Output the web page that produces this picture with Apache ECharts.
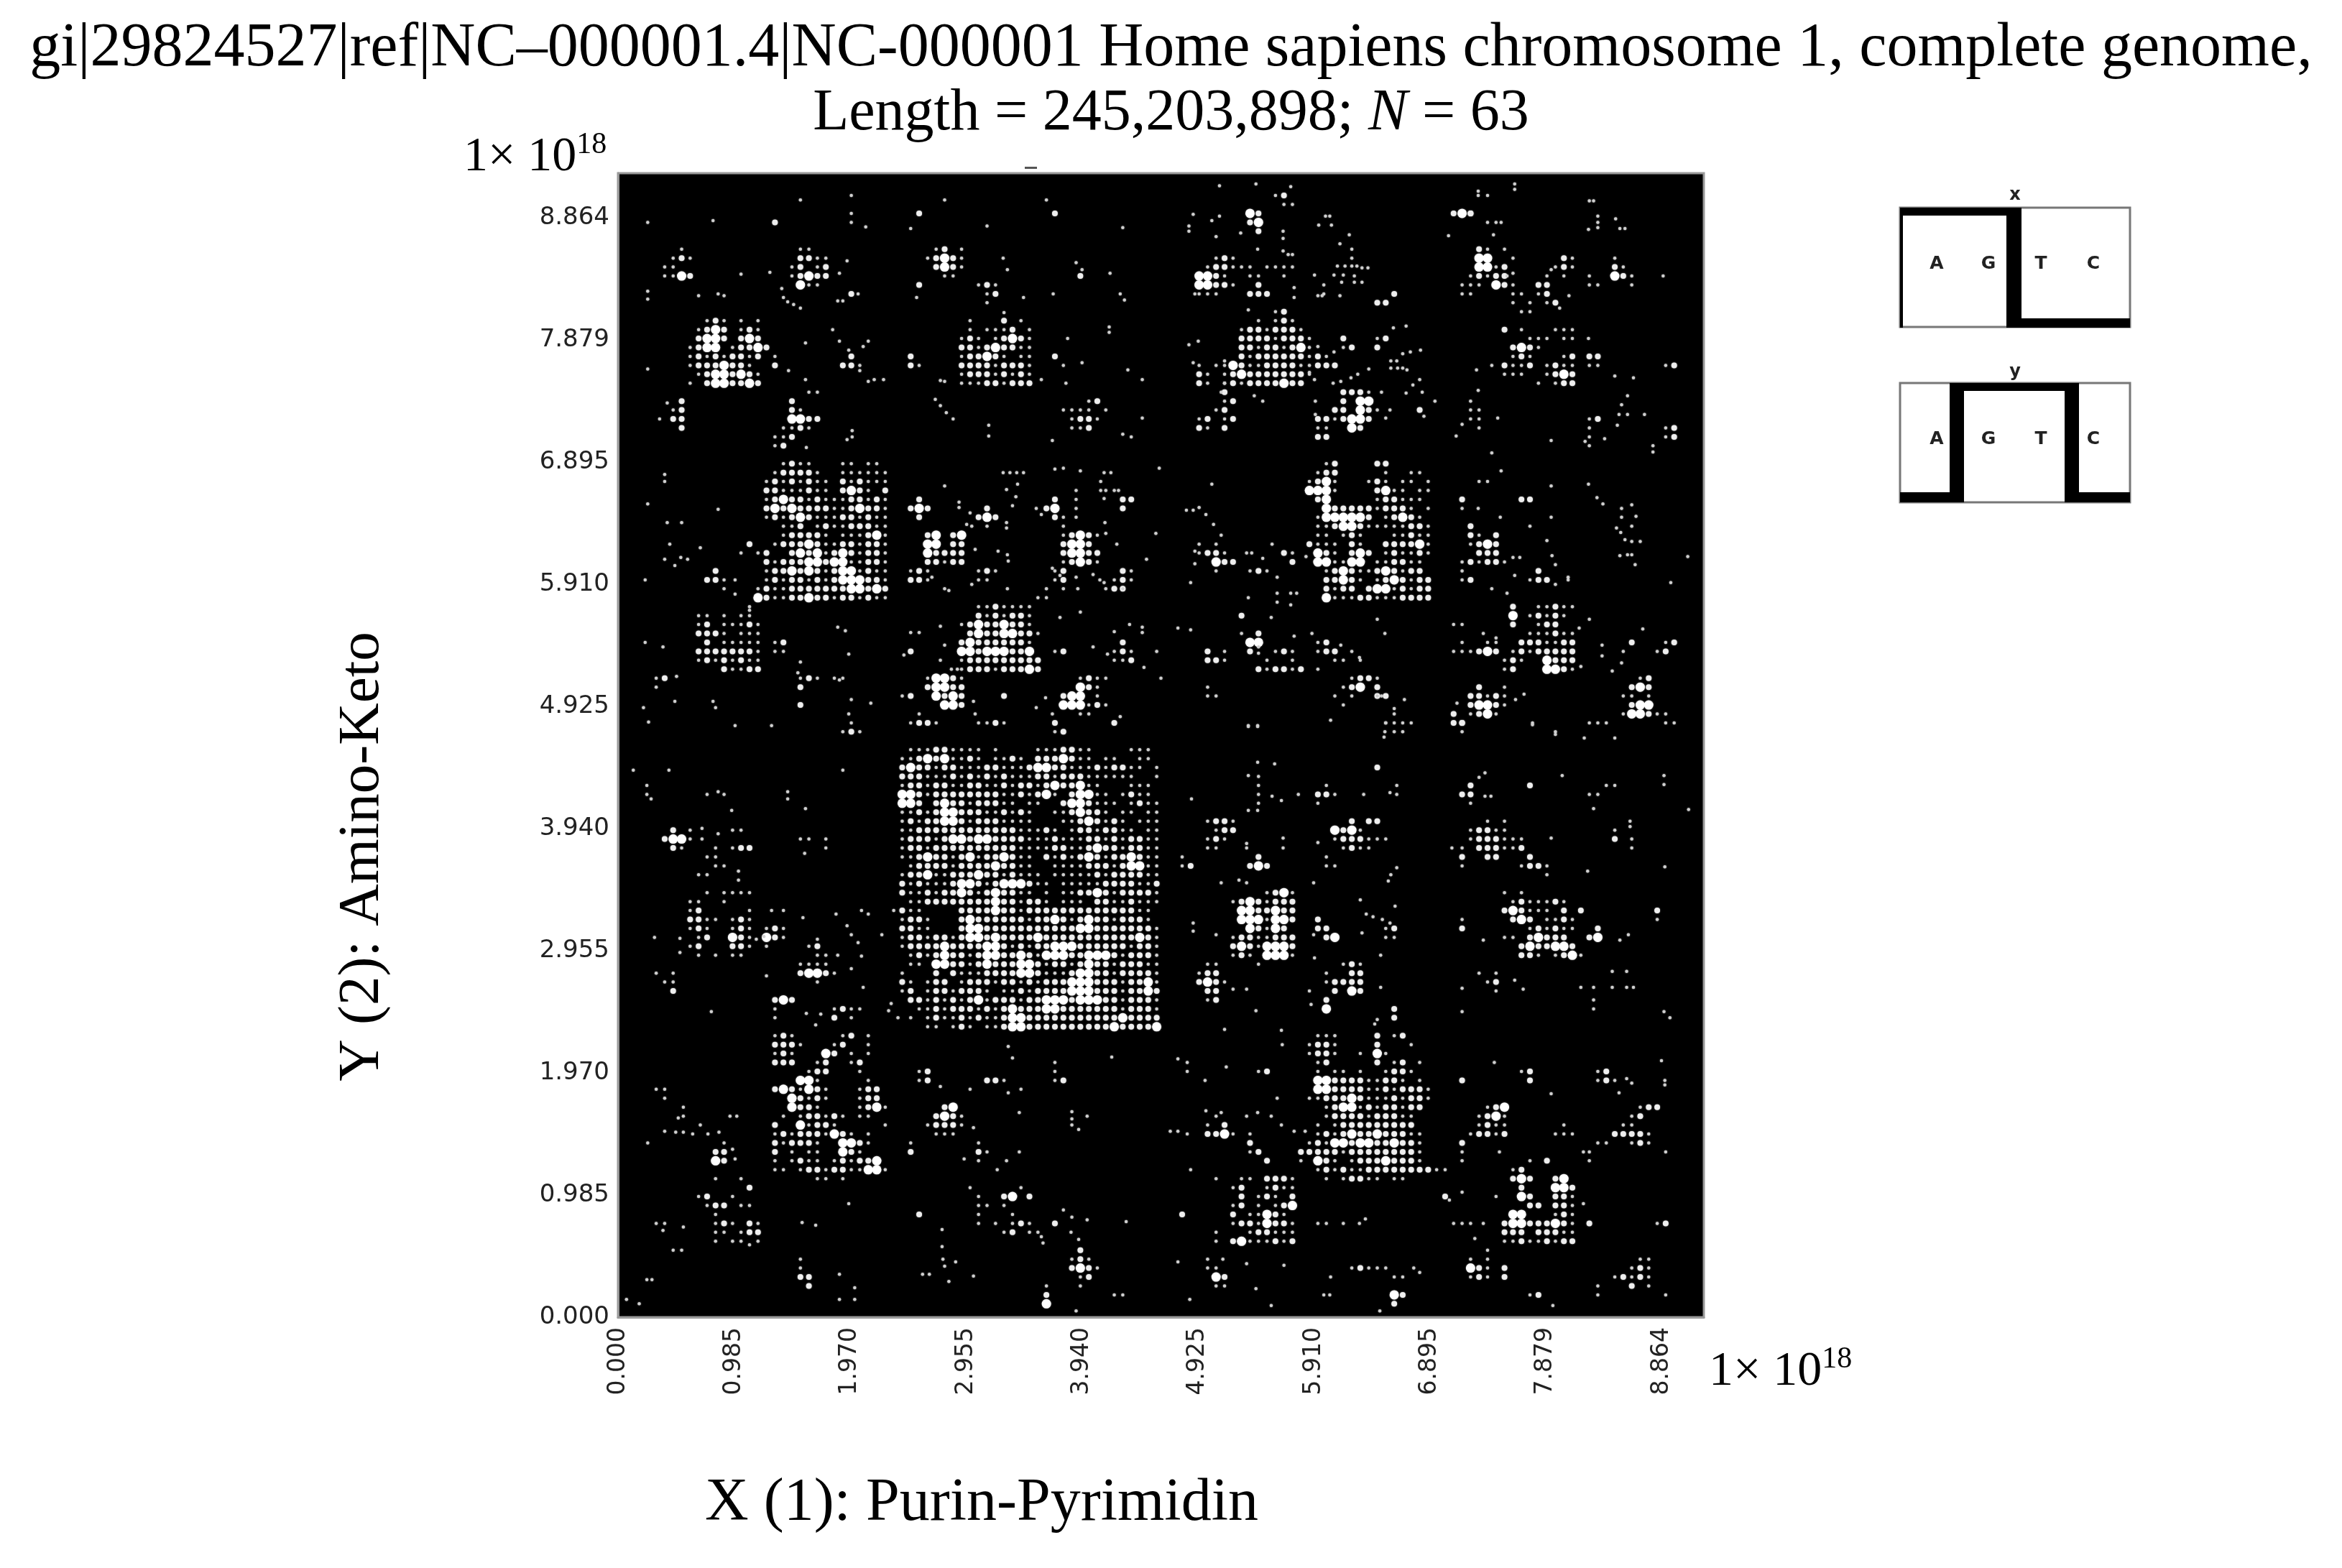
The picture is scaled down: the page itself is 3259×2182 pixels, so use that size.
<!DOCTYPE html>
<html><head><meta charset="utf-8">
<style>html,body{margin:0;padding:0;background:#fff}#c{width:3259px;height:2182px}</style>
<script src="https://cdn.jsdelivr.net/npm/echarts@6/dist/echarts.min.js"></script>
</head><body><div id="c"></div>
<script>
const titleLine1 = "gi|29824527|ref|NC\u2013000001.4|NC-000001 Home sapiens chromosome 1, complete genome,";
const tickLabels = ["0.000","0.985","1.970","2.955","3.940","4.925","5.910","6.895","7.879","8.864"];
const tickStep = 0.98489;
const axisMax = 9.22337;   // 2^63 / 1e18
const gridBins = 128;

// [col, row, density rows], o = sparse, O = medium, # = dense
const patchesTopLeft = [
[5,8,["..o.",".oOo","oo..","oo#O"]],
[20,8,[".oo..",".OOoo","oO.oO","oO#OO",".#oo"]],
[36,8,[".oO.o.","oO#Oo",".O#Oo","..oo."]],
[42,12,["oOo",".oO",".o"]],
[8,16,["..oOo.o.o",".oO#O.oOo",".O##O.O#O","oO##.oOO#O","oOoOoOOoO","oOOO#OOo.",".oO##O#Oo","o.O##OO#O"]],
[40,16,[".o...O.o",".o.oooO.o","oOo.oO#Oo","OOoO#OOoo","oOO#Oo.oo","OOOOoOOOo","oOOOoOoOo","oooOOoOOO"]],
[18,20,["o","O"]],[26,20,[".O.","OOo"]],[34,20,["O","Oo"]],[51,20,["O"]],
[6,25,[".O.","oO","OO",".O"]],
[20,24,["..oo","O...","Oo..","##OO",".Oo."]],
[52,25,["...oO.","oooo.o",".oOOo",".ooO."]],
[18,28,[".oo","ooO","oO."]],
[16,32,["...oOoo...oo.oo.","..oOOOOo..oooooo",".oOoOoOoo.OoOooo",".OOoooOoo.O#Oo.O",".oO#OOoOoooOOoOo",".O#O#OOOOooO#OOo",".oOoO#OoooOOoOoo","...ooO.oOooOOOoo","...oOOOOo.oooO#o","..oOOO#OooOOoOOo",".O..O#O#oO#OoOOo",".OoOOO##O##ooOOo",".oOO#O#OoO##oOoo",".oOoOOoOoO###OOo","oOooOOOOOOO##O#O","#OooOO#OOoOOoOoo"]],
[34,36,[".O.","O#O",".O."]],[42,37,[".O.","O#O"]],[50,36,[".O.","O#.",".Oo"]],[59,36,["OO","O."]],
[52,40,["oO#Oo","O##O.","O##OO","oO#Oo"]],
[36,40,["O#.O#","##.OO","#OOOO","OOoOO"]],
[14,41,[".O.","o.o"]],[10,44,[".O.","OOo","..o"]],
[34,44,["oOo","OOo"]],[42,44,["oOo","oo."]],[49,44,["..oO","..oO",".o.o","oo.."]],
[58,44,[".Oo","oOo","oO"]],[57,46,["oOo"]],
[9,48,["......o.","oo.o.oo.","oO.oooOo","OOOo.ooo",".O.ooooo","OOOOOOOo","oOoOoOoo","...OooOO"]],
[40,48,["..ooOoooo","..OoOoOOo","oO#OO#OOo",".O#OO##OOo","O#OOOOOOo","##O###OO#","oOOOOOOOOO","oOOOoOOO#O"]],
[18,52,["oO","oo"]],[34,53,["O"]],[51,53,["oO"]],[58,52,[".O.","oOo","ooO"]],
[4,56,["oO","o."]],[21,56,["oOo.oo","O.....",".......","O"]],
[36,56,["o##Oo","O##OO",".#O#O","..##O"]],[33,58,["oO"]],[45,58,["O"]],
[34,61,["oOOo"]],[42,61,["ooOo"]],
[52,56,["..oOoo","..#Oo.","O##.o.","###oOo","..oo"]],
[51,61,["O","oO"]],[58,61,["O"]],[26,61,[".o.","oOo"]],
[27,13,["O"]],[35,12,["O"]],[51,4,["O"]],[35,4,["O"]],[18,5,["O"]],[54,11,["O"]]
];
const singlesTopLeft = [21,2.5,27,2,38,2.5,50,2.5,3,5,10.7,4.8,27,4,27,5,28.7,5.5,34,5.7,43,5.4,59,5.6,14,10.8,17.4,10.6,25.6,10.7,26.5,9.3,44.9,9,45.4,10.3,57.5,10.7,53.5,9.5,54.2,10.3,3,12.7,3,13.6,11.3,13,12,13.2,9,13.2,18.8,12.4,19,13.4,19.5,13.9,20.2,14.2,25.4,13.8,26,13.8,27.8,13,34.7,13.4,47.3,13.4,50.8,13,58.7,13,59.2,13.7,21,14.6,45,15.1,24.8,17,25.6,18.3,26.7,19.3,28.4,18.9,29,18.3,21.6,18.5,19.6,21.6,28,21.6,29,22.8,29.7,22.6,30.8,22.6,21.6,22.6,37.5,22.7,38,22.8,3,21.4,52,21,54.2,20.7,52.5,18,57.4,16.7,57.4,17.3,59.6,21.5,61.3,22.6,49.4,22.6,52.3,23,4.4,27,5.3,25.2,36.9,24.8,37.5,25.5,38.2,26.3,39,27,43.2,27.7,43.2,28.9,61.3,26.9,59,28.7,60,29,50.7,29.4,27.1,28.3,27.1,29,26.5,29.3,21.7,30.2,39.7,36.3,39.7,36.9,41,37.5,40.6,38.8,41.2,39,43,39,45.3,38.6,45.3,39.2,46.4,35.7,46,36.7,44.9,33,45.7,33,46.5,33,47.3,33,46.6,34.3,45.3,34.9,51,32.6,52,32.5,54,32.8,63.3,32.5,56.8,33,57.6,33,56.4,34,56.4,35,57,35,58,35,58.5,35,53.5,35,53.5,36,53.5,37,53.5,38,56.8,35.9,38,34.5,5,33.2,5,34,3,36.5,11.3,37.1,5.3,38.6,7,38.6,48.8,37,49.4,37.7,57,39.8,56.9,38.6,62.9,39.8,61.8,42.7,58.3,41,52,39,5.6,41,5,42.7,6.2,43.4,6.9,42.5,7.7,42.7,9.2,41.4,13.3,45,13.3,46.6,2.7,45,36.5,44.7,38,46,38.5,46.2,44.3,41.8,45.4,42.2,45.5,42.9,41.6,41.6,41.2,45.5,45.4,46,50.7,43.7,53.5,44.7,53.7,46,55.5,44.4,56.3,45,56.8,45.3,51.6,44.5,15,48.4,25.4,50.3,26.3,50.7,34,50.9,35,50.9,37.5,50.2,2.7,52,4.8,52.5,26.7,53.3,21,54.2,33.2,53.4,38,52.3,37.5,54,38.8,55,39.5,55,55.5,52.5,57.2,53.3,61.5,54.8,63,53,51.6,49.2,54,48.6,58,50.8,59.8,50,61.3,50.3,61.3,50.9,65.5,50.4,20.7,55.4,25.6,56.2,6.4,55.8,6.2,58.6,10.7,58.6,11,59.3,2.5,59.3,3.1,60.9,13.3,61.3,27,58.4,29.3,58.8,35,60,41.4,58.6,41.6,60,49.9,58.2,48.8,59.3,58.7,60.3,50.7,60,63.5,56,26.7,60,17.6,61.3];

const patchesTopRight = [
[77,2,["oO",".oo"]],[74,4,["#O","O#",".O"]],[98,4,["O#O"]],[100,4,["O"]],
[68,9,["..oOo",".oOOo","##Oo.","##OOo"]],[73,10,["oo..",".oo"]],[76,10,["oooo","..o"]],
[74,12,[".O.","OOO"]],[69,13,["oo"]],[89,13,["..O","OO."]],[77,15,["oO"]],
[100,8,[".Oo.o.",".##..o",".##oO.","oOoOO.","oo.#Oo"]],
[109,9,["..Oo",".oOo","o.o."]],[114,9,["...o.","...Oo.","o..#Oo","oo...o"]],
[99,12,["o","oo"]],[105,12,["...OO.","oo.oO.","o.o.oO",".oo"]],
[72,16,["...o.oOo..",".oOOoOOOo.",".OOOOoOOOo",".OOoOOoO#o",".OoOOOOOOo","#OooOOOOoo","O#OOOOOOOo",".oOOOO#OO."]],
[68,21,["o.oo","Oo.o","Oo.o"]],[71,23,["oO","O."]],
[68,25,["...oO","..oO.","oO.oO","Oo.O."]],
[82,20,["Oo.","OOO"]],[85,18,["O","oO"]],[89,18,["oO","O."]],
[84,24,[".OOOo",".O.##","OO.#O","oO##O","..#O."]],[82,27,["O","o","O"]],[83,27,["O","o","O"]],
[94,26,["O"]],[100,25,["o.","oo","oo",".o"]],[114,27,["oO","o.","o.","o."]],[123,28,["oO","oO"]],
[114,20,["OO","oo"]],[123,21,["oO"]],
[104,17,["O.o...ooo","...ooo.oo",".O#Oo....",".oOo...oO","OooO.oOoo","ooo..oO#O","....o.oOO"]],
[80,32,["...oO....OO.....","..oOO.....o..oo.",".oO#o...oOo.oo.o",".###o....O#oo.oo","..O#.....oOOooo.","...#OOOOOoOOOo.o","..o#####O.oO#Oo.","..ooO##OoooooOOo","..oo.oOo...ooOoo",".Oooo.Oo..OOOO#o","..#Oo.O#O.oOooOo","..##oo##.ooOOoo.","...oO#OooO#OoOO.","...OO#Oo.oO#OoOO","...OoOO.O##oOoOO","...#oooOOoooOOOO"]],
[68,41,["o.o..","oOOo.","..#OO","..o"]],[78,42,["Oo",".O"]],[74,44,["oOo"]],
[99,36,["O","o"]],[106,36,["OO"]],[101,34,["oo"]],
[99,39,[".O....",".Oo.O.",".oO#O","..OOO","oOoOOo"]],[99,44,["o","oO"]],[106,44,["..O",".oOO"]],
[73,49,["O..","...","o.O",".##",".O."]],[69,53,["O.o","OOo"]],[76,53,[".oOo","o..o"]],[75,55,["OoOOoO.o"]],
[82,52,["oO.","oOO"]],[84,54,["oo.o"]],[98,50,["oo"]],[98,52,[".o..oo.","ooo.OO."]],[101,53,["O#"]],
[104,48,[".O..ooOoo",".#.oOoOo.",".O..oOO..","...oooOoo","..OOOooOO",".oOoOOOOO","oOo..#OOO","oO...##Oo"]],
[119,52,["O"]],[122,52,[".oO","oO."]],
[69,57,["o.","oo"]],[84,56,["..oOOo",".oO#.O","o.o..O",".o"]],[89,58,["oO"]],[90,60,[".o","oo.o","..o"]],
[100,57,[".O..o.","OOoOo.","O##Oo.","oO#o"]],[98,60,["O","OO"]],
[118,56,["..oO.",".O#O","oo...",".O##","o##O"]],[122,60,["oo"]]
];
const singlesTopRight = [70.4,.9,74.7,.7,78.8,1,100.9,1.5,100.9,2,102,2,105.2,.7,105.2,1.3,114,2.6,114.5,2.6,67.3,4.1,66.8,5.4,66.8,6,69.5,4.8,70.4,4.3,70,6.6,72.9,6.2,77.9,6,77.9,6.8,74.9,8,82.9,4.3,83.4,4.3,82.1,5.3,83.6,5.3,85.7,6.4,102,5,103,5,103.6,5,102.7,6.4,97.4,6.5,113.9,5.8,115,4.3,115,5,115,5.6,117.1,4.6,117.6,5.7,118.2,5.7,78.5,8.6,79,8.6,77.9,8.2,81.6,10.9,84.6,7.4,86,8,86,9,86,9.9,86.6,9.9,84.3,9.9,85.2,9.9,83.9,10.9,85,10.9,86.3,11,87.2,10.1,87.9,10.1,86.3,11.7,87.2,11.7,84.8,11.7,82.7,12,82.7,13,82,13.2,82.5,13.2,79.2,12.3,79.2,13.4,67.5,13,68,13,84.6,13.2,73.8,14.8,105,10.7,104.3,11,109.5,10.3,122.7,11,111.6,13.2,110.5,14.6,71,20.5,70.6,24,67.3,20.7,66.8,18.7,67.9,18.3,74.5,24.4,75.5,25,81,21.8,81.6,22.6,83.9,19.5,82,18.9,90.9,16.8,92.4,16.6,92,19.7,92.9,19.5,94.1,19.3,90.6,20.5,91.3,20.5,90.6,21.3,91.4,21.3,92,21.3,92.5,21.5,88,21.4,86.7,22,85.9,22.4,84.7,22.8,83.8,23,94,22.6,93.2,23.2,94.3,24,92.4,24.1,89.5,24,81.7,25,81.7,26.5,94.5,26.7,95.8,25,89,26,90,26.9,90.5,26,98.3,28.9,99,27.6,103.2,26.9,100.9,23.8,100.7,21.5,102.5,21,118.5,24.4,117.8,25.4,117.5,26.5,118.5,26.5,120.5,26.5,117.3,27.7,109.5,29.4,102.5,30.8,103.6,32.8,113.9,18,117,22.2,119.2,22.4,113.5,29.5,115.8,29.2,121.5,30,121.5,30.7,69.5,34.3,66.5,37.2,67.3,37.2,68,36.9,68.8,37.7,69.7,38.8,70.6,40,73.6,42,74.2,42,76.6,41,75.5,42.6,80.6,42.4,67.5,41.8,67.5,43.2,67,45.3,77.2,44.7,77.2,46.5,77.2,47.5,73.8,47,78.8,46.5,79.5,46.5,78.8,47.8,100.9,37,103.5,38,109.5,38,107,39,109.5,34.5,113.9,34.3,102.5,46,109,40.6,109.6,42.3,110,43.3,105,42.5,105.8,42.5,104.3,46.5,111.5,44.7,111.5,45,110,45.5,105.2,44.5,117.8,37,119,36.6,117.8,38,119.5,37.9,119,39,117.2,39.2,117.7,39.7,118.2,40.5,119,40.7,120,40.7,117.6,42.3,118.5,42.2,119,42.2,119.4,43.3,114.9,35.8,115.6,36.5,125.6,42.4,123.6,45.3,89,49.4,89.9,51,81.3,51,84.7,52.3,86,53,86.9,53.7,105.3,58.4,106.3,57.8,114,49.4,112.8,50.4,120.3,50.5,115.5,52.3,115.5,53.5,118,53,113,54.7,117.8,54.3,116.7,55.2,121,58,67,50.6,79.2,51.3,76.5,49.2,75,52.5,75,53.2,89.5,58,91,59.4,92.2,58.4,83.5,60.7,89.9,62,98.4,58.8,107.3,61,110,62,114,61,115,61,116,61,73.8,61.3,74.9,61.3,101.5,51,103,51.5];

const patchesBottomLeft = [
[5,73,[".O.o","O##o",".Oo."]],[13,73,["oo.","...","oOO"]],[21,74,["oo.o","...o"]],[10,75,[".o","oo",".oo"]],[9,78,["oo"]],
[8,80,["..o.oooo","oo..o...","oO.....o","OOoo.oOo","oOo..oOo",".oO..#Oo","oO...OOo",".o.o.oo"]],
[4,89,["o.o",".oo","..O"]],[17,84,["oOo","#Oo","o.."]],
[21,86,[".oO.","..oo","oooo","O##Oo","..o."]],
[18,92,["O#O","o..","o"]],[25,93,["oOoo","O.o."]],
[32,64,["..oooOOoooo.o....oooOOoo....ooo.",".ooO#O#ooOo.ooOo.OOO#Ooo.oo..oo.",".O#OOoOOoooOOoooO##OOoooOoOOoo.o",".OOOoooOoOoOoOoooOOoOOOoooooo..o",".oOOoOOooOOooOoOOoO#OO#oo...ooo.",".##OoOOOOOOOOooOoO#o.O##oo.oOoo.",".##O.O#OOoOOOoo.oo..O##Oooo.oOoo",".ooOoO##OOOooOoOo..ooO#OOo.oo.oo",".oOoOO##OoOOOoooo...ooO#OoOo.ooo",".ooOOOOOOOOOOOOoooOo.oOOoOOoo.oo",".oOOOoO##O##OOOOoooOoooOOoOoOOoo",".oOOoOOOOOOOOOOooooOOooO#OOoOOoo",".ooO#OOoO#oOO#Ooo.OoOoO#OoOO#Ooo","..oOOOOoOOOO#OOoo..ooooOOOoO##oo",".oOO#ooOOO#OOoOooo.oooooOoOOOOoo",".OoOoooO##OoO###Ooo.oooooOOOOooO",".OooOoOO#OoO#OOoo.o.ooOO#OoOOOOo","..ooOOOOOOOO#OOoOOo.ooo.OOooOooo","oOoo....OOOO#OOoOOOOOOOOOOOOOoo.",".oOOo...O#OOOOOOoOO#OoO#OOoOOOo.",".OOoo...O##OOOOOOOOOOO##OOOOOOOo",".oOOoOOoO##O#OOOO#OOOOOOOOOOO#Oo",".oOOOO#OOOO##OoOoOO###OOOOOOoOOo","..oOoO#OOoO##OO#Oo###OO###OoOOOo","..oo.##OOoO#OOO##OoOOoO#OOoOOOoo",".o...O.OoooOOOO##OoooO##OOoOOOOo",".Oo.oOO.oOOOoOOoOoOOO###OOOoOO#o",".oO.oOOoOOOo.ooOoOOOO###OOOoOO#O","..OOoOoOoO#oOOOoOO###O###OOoOOOo","...ooOoOOOoOoO#OOO##OOOOOOOoOOOo","..o.oOooOoOooO##OOOOOOOOOOO#OOOO","....oo.oOo.ooO##OOOOOOOOOO#OOOO#"]],
[16,96,["..oOo.....oO.o..","..OOOo...oO..o..","..oOo...#O.o.o..","..OOO..oO..oO...","......oOO...o...",".....##o.....o..","..O#Oo#Oo...oOO.","....#OoOo...oOO.","....#OOo....oO#o","...o.oOOoOo.oo..","..O..#oOOo.....o","..oOoOOOo#Oo.o..","..OoOOOo..##Oo..","..O.o.oo..#Oo...","..o.oOoo.oOoOO#.","..oo.oOOoOOoo##o",".......oo.o....."]],
[35,100,["oO","oO"]],[41,101,["..OOo","o.....o"]],[51,100,["o","oO"]],
[36,104,["..O#.",".O#Oo","oOOOo",".ooo"]],[34,108,["o","O"]],[42,108,["o.","Oo"]],
[4,102,["oo",".o"]],[10,108,["..o",".OO",".#O"]],
[9,112,["..o..o..","......O.","oO..o...",".oOO.oo.","..o.....","..oOo.Oo","..oo.oOO","..o.oo.o"]],
[4,117,["oo"]],[6,120,["oo"]],[21,121,["o.","o.","OO",".O"]],
[35,116,["O"]],[41,113,["o.....o.",".o..O#.O",".oo.o...",".o...o..",".o.o.oOo","....oO.oo."]],
[51,117,["O"]],[52,120,["..O..",".oOo",".O#Oo","..oO","..o"]],[50,124,["o","O","#"]],[58,125,["oo"]]
];
const singlesBottomLeft = [1.3,66.3,5.5,66.3,26,66.3,2.9,68,2.9,69,3.4,69.5,10,69,11.3,68.7,12,69,19.5,68.7,19.5,69.5,21.6,70.6,12.9,70.8,9.4,72.8,11.3,73.4,9.4,74,21.5,75.6,13.7,77.6,13.7,78.6,3.8,85,6.8,85.1,6.8,86.7,16.7,84.9,15.8,85.2,17.6,82,19,82,21.3,82.8,25.2,82.4,26.5,83.7,27,84.7,27.8,85.6,28.2,82,29,82.4,28.2,87.1,23,85.2,30.6,84.7,25.4,87,27,88.5,17,89.3,28.4,90.6,10.5,93.3,21.7,93.5,23.4,93.6,22.8,94.8,31.7,92.4,31.4,93.2,32.5,94,37.5,101.7,45.5,102.4,46,98.5,51,99,57.7,98.4,65.5,98.6,41.4,106.3,46.8,104.6,53,104.5,53,105.3,53,106,54.8,105,53.8,106.5,64.6,106.7,65.5,106.7,40.3,109.8,42,110,46.8,109,44.2,111,45.3,110,45.5,97.2,7.2,104,7.2,105,6.6,105.2,5,106.7,6.3,106.8,7.2,106.8,8.3,107,9.2,106,10.1,107,11.4,106.8,12.7,105,13.5,105,13,108.7,13.3,109.8,3,108,4.8,117.8,7.2,117.4,15,119.4,2.9,123.3,3.5,123.3,21.2,116.9,22.8,117.2,26.7,114.8,25.6,122.7,27.4,124.2,27.4,125.5,25.6,125.5,35.4,122.7,36.2,122.7,37.7,117.7,37.7,119.6,37.8,121,38,121.8,39.3,121.3,38.5,123.5,41.4,122.9,49.4,118.5,49.6,119.2,52,115.5,53,116.3,54.8,116.6,52.9,118,53.8,118.8,59.4,116.8,53.5,126.8,65.5,121.3,2,126,0.5,125.5];

const patchesBottomRight = [
[90,61,["o.o",".o"]],[99,61,["O","o"]],[123,61,["oo"]],[89,66,["O"]],
[75,67,["o","o","o","o"]],[82,68,[".o.","OOo","o.."]],[99,68,[".O","OO",".o"]],[107,68,["O"]],[114,69,["oo"]],[116,68,["oo"]],
[69,72,["oOOo",".oOO","oOo.","oo.."]],[66,76,["o","oO"]],[74,76,[".O.","O#O"]],
[84,72,["..O.OO","#O#o..","oOOOo.",".oOoo"]],[89,74,["oo"]],[83,76,["o","oo"]],[99,75,["o","O","o"]],
[100,72,["..o.o.","oOOoo","oOOOo.",".OOOo","..OO"]],[105,74,["oo","oO"]],[106,76,[".O.","oOOo","...o"]],[117,73,["o..","O.o","..o"]],
[72,80,["....oO#o","oO#OoOOO",".##OO#OO",".###o##O","..#Oo#O.","oOOooOOO","O#Oo###O","oOo.###o","...o...."]],
[82,83,["O.","OO",".O#"]],[90,84,["oO","oo"]],[99,83,["o","O"]],
[104,80,["o.o.....",".oOoooOo.","O#Oooo.O.",".O#O.ooOo","...oOoOoo","oo.O#OOO..","..O#OO##O","..OOo.oO#o"]],
[113,82,["O"]],[114,84,[".O","O#"]],[122,82,["O","o"]],
[68,88,[".oo.","oOO.","O#Oo",".OO.",".oO"]],[83,88,["..oOo","o..OO","oOOOO",".O.#O"]],[83,92,["O","#"]],[91,93,["O","O"]],[101,89,["o.o",".oO","..o"]],
[80,96,["..ooo....O.oO...",".oOOo....O...o..",".oOOo..o.#o.....","..oO.....O.oO.o.","..o.oo.o..oOOo..","..##OOOOooOOo.o.","..##OOOOooOoOOOo",".ooOOO#OoooOoOOo","...oO##oOoOOoOO.","...oOOOOoOOOoo..","..o.oOOOOOOOOO..","..oOoO#OO#OOOoo.",".oOo##O##OO#OOo.","..OOOoOOOOOOOOo.","o.#Oo.oOOO#OOOo.","..oOoOooOOOOOOOOoo","...o.oOOoo.oo"]],
[75,100,["oO"]],[69,106,["o.O","OO#o"]],[74,107,["o.","O.","oO","..O"]],[80,109,["OO"]],
[99,101,["O"]],[106,100,["oO",".O"]],[115,100,["oO.","oOo"]],
[100,104,["..oO#",".oO#o",".oOoo","oOOoO"]],[110,106,[".o.","ooo"]],[99,108,["O","o","o"]],[105,110,["..o.O","oO"]],[114,108,[".oo","o..","o."]],
[117,104,["...oOO","..oO.",".oo.","OOOOo","..oOo"]],
[72,112,[".oo.OOOo","oO..oOoo",".O.oOo.O","oO.o.oO#","O.oo#Oo.","oOOo#OOo","..oOOooo","O#oooOoO"]],
[66,116,["O"]],[70,118,["o","o"]],[69,121,["o..","oo.",".#O",".oo"]],[82,117,["oo.o"]],[86,122,["oOo"]],[89,122,["oo.","..oo"]],[91,125,["#O","O."]],
[98,117,["ooo"]],[97,114,["O"]],
[104,112,[".O#O..O#.","..O...##O","..#O..OOo","...OO.OOo",".##...oOo","O##OOO#Oo","OOO.OOOoo","ooOooOoOO"]],
[114,117,["O"]],[122,117,["oO"]],[100,120,["..o","o.o","#Oo.O","oOo.O"]],[117,121,["...oo","..oOo","oOoOo","..O.o"]],
[107,125,["oO"]],[115,124,["o","o"]],[123,125,["o"]]
];
const singlesBottomRight = [73.8,61.4,74.9,61.4,89.8,62.6,107.3,61.2,110,62.3,113.4,62.7,117,62.7,74.9,65.4,76.9,65.6,73.8,66.9,91.3,68,90.5,68.8,91.3,69,101.7,66.6,101,67.1,110.8,66.9,122.8,66.9,122.8,67.9,76.6,69.2,77.7,69.7,79.7,69,73.8,70.8,74.9,70.8,67.1,69.5,87.4,69,101.7,69.2,102.4,69.2,114.5,70.6,125.7,70.7,118.8,72,118.8,72.6,73.6,74.5,73.6,75,77.9,73.9,77.9,75,72.7,78.6,73.6,78.9,70.6,78.9,81.5,78.9,82,74.4,91.3,77.2,90.6,78,90.3,78.7,97.8,75,109.5,73.9,113.8,77.6,122.9,77.1,81.5,84.7,67.3,83.4,67.3,84.3,70,84.7,81.6,87.3,87,80.8,87.7,82.4,88.5,82.7,89.6,83,90.5,83.4,87.2,84.5,89.4,87,91.1,81.5,101.5,85.3,118.6,84.7,117.6,85.3,72,90.8,73.6,90.8,74.7,93.2,71,95.3,81,91,81.2,92.5,89.4,90.6,88.7,94.7,89,94.2,99,90.7,99,93.3,105.2,89.8,106.2,90.8,113,90.6,114.5,90.6,116.7,88.8,116.7,90.6,118.4,88.8,118.4,90.6,119.2,90.6,114.5,92,114.5,93,122.8,93.3,123.5,94,77.7,95.4,77.8,97,66.6,99,66.6,100,68.7,101,71.2,99.5,77.2,103,109.5,102.5,117.5,102.4,118.4,100.8,119,101.3,122.9,101,122.9,101.5,122.5,98.8,102.8,99,68.8,104.4,70,105,70.6,104.6,73.6,105,74.9,104.6,76.5,105,77.7,106,79.2,106.7,80.5,106.7,67,111,66.6,107,70,112,103.4,109,113.3,109,123,109,113.3,114.8,97.5,114.4,99,113.5,103,114,101.5,117,100.5,118.7,86.9,117,87.6,116.5,70.8,121,73.6,121.5,78,121.7,74.7,124.3,76.5,126.2,83.5,123,82.7,125,83.4,125,93.3,122,94,122.5,89.3,126.8,109.7,126.2,66.9,125.5];

const patchGroups = [patchesTopLeft, patchesTopRight, patchesBottomLeft, patchesBottomRight];
const singleGroups = [singlesTopLeft, singlesTopRight, singlesBottomLeft, singlesBottomRight];
const densityLevel = {o:1, O:2, '#':3};
const dotSize = {1:4.5, 2:8, 3:13};
const dotColor = {1:'#cfcfcf', 2:'#eeeeee', 3:'#ffffff'};

const cell = axisMax / gridBins;
const toPoint = (col,row,level) => [(col+0.5)*cell, axisMax-(row+0.5)*cell, level];
const points = [];
patchGroups.forEach(g => g.forEach(([c,r,rows]) => rows.forEach((s,j) => {
  [...s].forEach((ch,i) => { if (densityLevel[ch]) points.push(toPoint(c+i, r+j, densityLevel[ch])); });
})));
singleGroups.forEach(g => { for (let i=0;i<g.length;i+=2) points.push(toPoint(g[i], g[i+1], 1)); });

const serif = '"Liberation Serif", serif';
const labelFmt = v => { const k=Math.round(v/tickStep); return (Math.abs(k*tickStep-v)<1e-6 && k<tickLabels.length) ? tickLabels[k] : ''; };
const axisBase = {type:'value',min:0,max:axisMax,interval:tickStep,splitLine:{show:false},axisTick:{show:false},
  axisLine:{show:true,lineStyle:{color:'#9a9a9a',width:3}}};
const sci = (x,y) => ({left:x,top:y,text:'{a|1\u00d7 10}{s|18}',
  textStyle:{fontWeight:'normal',rich:{a:{fontFamily:serif,fontWeight:'normal',fontSize:68,color:'#000',verticalAlign:'bottom',lineHeight:72},
                   s:{fontFamily:serif,fontWeight:'normal',fontSize:42,color:'#000',verticalAlign:'top',lineHeight:72}}}});

// Nucleotide key boxes
function key(top, name, blocks, nameY){
  const L=2644,R=2964,H=166, els=[];
  els.push({type:'rect',shape:{x:L,y:top,width:R-L,height:H},style:{fill:'#fff',stroke:'#777',lineWidth:3}});
  blocks.forEach(b=>els.push({type:'rect',shape:{x:L+b[0],y:top+b[1],width:b[2],height:b[3]},style:{fill:'#000'}}));
  [['A',2695],['G',2767],['T',2840],['C',2913]].forEach(t=>els.push({type:'text',x:t[1],y:top+78,
    style:{text:t[0],font:'bold 25px "DejaVu Sans"',fill:'#222',textAlign:'center',textVerticalAlign:'middle'}}));
  els.push({type:'text',x:2804,y:nameY,style:{text:name,font:'bold 24px "DejaVu Sans"',fill:'#222',textAlign:'center',textVerticalAlign:'middle'}});
  return els;
}
const graphics = [
  ...key(289,'x',[[0,0,169,11],[148,0,21,167],[148,154,172,13],[0,0,4,167]],272),
  ...key(533,'y',[[69,0,20,166],[229,0,20,166],[69,0,180,11],[0,152,89,14],[229,152,91,14]],518),
  {type:'rect',shape:{x:1426,y:232,width:17,height:3},style:{fill:'#555'}},
  {type:'text',x:505,y:1192,rotation:Math.PI/2,style:{text:'Y (2): Amino-Keto',font:'81px '+serif,fill:'#000',textAlign:'center',textVerticalAlign:'middle'}}
];

const chart = echarts.init(document.getElementById('c'),null,{renderer:'canvas'});
chart.setOption({
  animation:false,backgroundColor:'#fff',
  title:[
    {left:'center',top:20,text:titleLine1,textStyle:{fontFamily:serif,fontWeight:'normal',fontSize:86,color:'#000'}},
    {left:'center',top:112,text:'{a|Length = 245,203,898; }{i|N}{a| = 63}',
     textStyle:{fontWeight:'normal',rich:{a:{fontFamily:serif,fontWeight:'normal',fontSize:82,color:'#000'},i:{fontFamily:serif,fontStyle:'italic',fontWeight:'normal',fontSize:82,color:'#000'}}}},
    sci(640,176), sci(2373,1866),
    {left:976,top:2046,text:'X (1): Purin-Pyrimidin',textStyle:{fontFamily:serif,fontWeight:'normal',fontSize:84,color:'#000'}}
  ],
  grid:{left:860,top:241,width:1511,height:1592,show:true,backgroundColor:'#000',borderColor:'#9a9a9a',borderWidth:3},
  xAxis:{...axisBase,axisLabel:{rotate:90,margin:14,fontFamily:'DejaVu Sans',fontSize:33,color:'#222',formatter:labelFmt,showMaxLabel:false}},
  yAxis:{...axisBase,axisLabel:{margin:12,fontFamily:'DejaVu Sans',fontSize:34,color:'#222',formatter:labelFmt,showMaxLabel:false}},
  graphic:graphics,
  series:[{type:'scatter',large:false,data:points,silent:true,
    symbolSize:d=>dotSize[d[2]],
    itemStyle:{color:p=>dotColor[p.value[2]],shadowBlur:2,shadowColor:'rgba(255,255,255,0.5)',opacity:1}}]
});
</script></body></html>
